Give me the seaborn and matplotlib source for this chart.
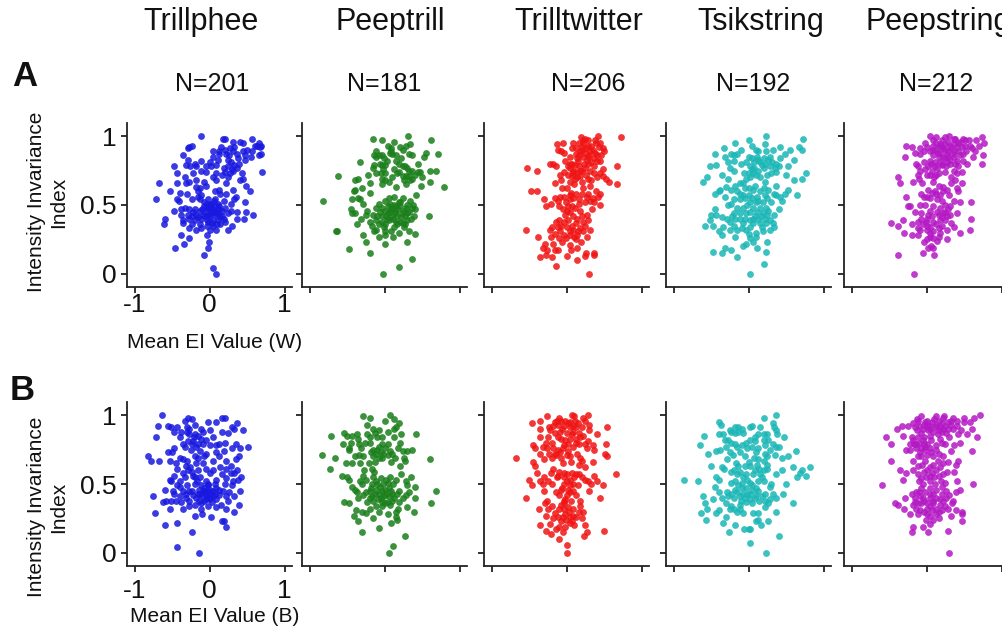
import matplotlib
matplotlib.use("Agg")
import matplotlib.pyplot as plt
import pandas as pd
import seaborn as sns

# Song types (columns) and neurons recorded per song type
SONGS = ["Trillphee", "Peeptrill", "Trilltwitter", "Tsikstring", "Peepstring"]
COUNTS = [201, 181, 206, 192, 212]
CONDITIONS = ["W", "B"]
X_TICKS = [-1, 0, 1]
Y_TICKS = [0, 0.5, 1]

# (mean EI value, intensity invariance index) per neuron, in hundredths
W_TRILLPHEE = [(-11,100),(18,98),(20,98),(31,96),(41,96),(44,95),(56,98),(66,95),(69,93),(63,93),(67,92),(-27,92),(-29,91),(-24,93),(4,89),(13,89),(21,90),(27,91),(31,89),(22,87),(13,87),(45,89),(56,89),(69,87),(66,86),(-36,86),(4,85),(36,87),(47,86),(-29,83),(-11,82),(0,81),(11,83),(25,83),(29,81),(47,83),(-48,78),(-31,79),(-26,78),(-18,78),(-5,78),(2,78),(8,79),(33,79),(39,80),(36,77),(31,75),(27,73),(21,74),(-12,75),(-5,74),(9,73),(70,74),(19,77),(24,70),(-44,73),(-22,73),(-28,67),(-32,66),(-44,66),(-68,66),(9,68),(22,66),(-8,67),(-18,68),(44,69),(41,68),(49,64),(-18,63),(-13,62),(-16,60),(-53,60),(-40,59),(12,61),(14,58),(31,61),(54,60),(35,56),(-12,57),(-44,54),(-41,53),(-72,54),(-24,54),(-13,54),(-2,54),(7,54),(19,53),(33,54),(47,52),(-4,51),(2,51),(11,51),(-8,49),(0,48),(7,49),(13,49),(-47,46),(-33,48),(-27,47),(-22,45),(-13,46),(-5,46),(4,46),(11,45),(20,48),(29,46),(36,45),(49,45),(-38,43),(-29,43),(-18,43),(-9,43),(-2,43),(2,44),(9,43),(17,42),(58,43),(24,44),(46,40),(-59,40),(-36,39),(-27,40),(-20,39),(-11,40),(-4,39),(4,39),(11,39),(36,40),(-61,36),(-36,37),(-24,36),(-13,36),(-4,35),(4,35),(14,36),(20,38),(30,35),(-27,33),(-18,32),(0,32),(9,32),(24,32),(-38,28),(-4,28),(-27,26),(-1,23),(-34,22),(-46,19),(-2,19),(-8,14),(4,4),(9,0),
    (5,47),(-3,48),(8,44),(-6,42),(12,47),(-10,47),(0,42),(3,37),(-15,41),(16,46),(-8,52),(6,53),(1,50),(-19,47),(14,41),(-2,38),(10,36),(-12,33),(19,40),(-24,42),(26,86),(33,92),(15,92),(38,84),(50,90),(60,93),(24,78),(30,76),(17,72),(5,70),(-20,80),(-33,70),(-15,56),(22,58),(-30,58),(43,73),(55,85),(-5,64),(7,60),(-38,47),(28,51)]
W_PEEPTRILL = [(-16,98),(-4,97),(12,96),(31,100),(34,94),(62,97),(4,93),(9,91),(21,92),(24,90),(7,88),(10,87),(-14,86),(-11,85),(-8,86),(-3,86),(-1,84),(32,87),(37,86),(52,85),(71,87),(-33,81),(-14,79),(-3,79),(1,79),(15,82),(19,80),(24,78),(30,77),(36,75),(44,74),(47,74),(61,75),(68,75),(-16,77),(-12,73),(-5,73),(1,73),(17,73),(28,71),(32,71),(-62,71),(-3,69),(1,68),(10,70),(26,68),(37,69),(-39,68),(-35,69),(-19,66),(-3,65),(28,65),(49,64),(60,67),(79,63),(-40,61),(-41,60),(-19,59),(-44,54),(-33,54),(-29,51),(-82,53),(12,56),(24,55),(1,53),(7,51),(19,52),(34,53),(-12,48),(-4,48),(4,49),(10,48),(15,49),(21,49),(28,48),(36,48),(41,47),(-23,46),(0,46),(7,45),(14,44),(23,44),(30,44),(-43,44),(-39,44),(-16,43),(-3,42),(2,42),(9,41),(17,42),(27,42),(39,42),(59,42),(-32,40),(-12,39),(-3,38),(6,39),(15,38),(21,38),(30,39),(-37,36),(-17,35),(-8,36),(1,36),(12,34),(26,34),(-64,31),(-65,31),(-12,32),(1,31),(9,31),(32,31),(-29,28),(-8,27),(1,28),(11,27),(40,29),(-25,23),(0,22),(30,23),(-47,18),(-19,15),(37,11),(19,5),(-2,0),
    (14,46),(18,47),(22,41),(5,44),(11,40),(26,46),(33,45),(3,40),(-6,45),(16,36),(24,37),(-1,34),(8,47),(30,50),(-10,42),(20,52),(35,40),(-20,38),(-25,43),(12,50),(27,36),(6,55),(-8,51),(38,50),(-14,31),(19,30),(8,89),(15,86),(22,84),(27,78),(3,82),(-6,80),(32,75),(12,76),(19,74),(40,72),(-12,89),(28,93),(45,80),(-2,76),(25,71),(-22,72),(6,67),(34,68),(50,70),(-30,62),(15,63),(-36,55),(42,57),(55,88),(-45,47)]
W_TRILLTWITTER = [(19,99),(25,98),(28,97),(42,100),(73,99),(9,95),(16,95),(22,95),(29,93),(39,95),(-13,94),(-5,95),(7,91),(20,92),(26,91),(43,92),(48,91),(50,89),(-11,90),(-8,89),(12,87),(18,89),(31,89),(38,88),(46,86),(4,85),(14,84),(22,85),(28,85),(36,84),(40,82),(-2,82),(-22,80),(-18,80),(-14,78),(-53,77),(-39,75),(7,80),(11,79),(17,78),(23,80),(33,81),(67,78),(4,77),(9,75),(13,74),(21,75),(31,75),(36,73),(44,73),(-9,72),(2,72),(7,71),(11,69),(18,71),(29,69),(33,68),(49,71),(53,69),(57,67),(67,65),(-8,68),(4,67),(20,67),(0,62),(-48,60),(-39,60),(-9,56),(-4,56),(4,57),(13,58),(21,58),(29,58),(39,60),(45,58),(42,56),(-30,54),(-21,51),(-12,53),(-1,52),(4,54),(16,54),(25,52),(31,53),(37,52),(44,50),(-28,49),(-10,49),(2,49),(7,49),(11,48),(1,46),(18,46),(-2,43),(9,42),(27,43),(-10,39),(-14,38),(2,39),(14,40),(22,38),(29,39),(-20,34),(-7,35),(0,34),(-54,32),(-22,32),(-9,31),(9,32),(15,31),(22,31),(31,32),(-4,28),(4,28),(14,28),(27,27),(-38,27),(-21,27),(-10,26),(-1,26),(13,25),(-29,22),(4,21),(14,19),(-31,19),(-26,17),(-16,17),(-12,17),(-27,14),(-36,12),(0,13),(24,13),(26,15),(36,15),(37,14),(14,10),(-14,6),(30,0),
    (20,90),(24,88),(32,93),(27,83),(15,82),(35,90),(30,86),(12,91),(22,97),(45,95),(40,86),(5,80),(18,75),(25,77),(8,73),(2,78),(-3,88),(36,78),(26,72),(14,70),(-4,74),(44,82),(48,76),(10,65),(22,62),(31,64),(6,59),(-6,62),(16,51),(9,55),(27,56),(-15,55),(35,55),(5,45),(-5,47),(20,42),(13,37),(-3,38),(7,35),(18,33),(-12,34),(24,35),(4,31),(-16,29),(10,27),(-6,23),(19,23),(-18,22),(6,17),(-20,12),(38,97),(17,86),(29,80),(41,70),(-16,66),(34,47)]
W_TSIKSTRING = [(23,100),(73,98),(-18,95),(5,93),(22,94),(42,92),(67,92),(71,90),(-33,91),(10,90),(13,89),(23,89),(33,90),(48,87),(-45,87),(-23,87),(-20,86),(-15,87),(-32,85),(0,85),(4,84),(11,85),(20,84),(26,83),(60,83),(-28,81),(-3,81),(7,81),(15,81),(22,80),(31,81),(37,80),(40,78),(52,78),(-51,78),(-43,79),(-25,77),(-20,75),(2,78),(7,77),(12,75),(20,77),(28,78),(35,77),(37,74),(-6,73),(0,73),(6,73),(24,72),(76,73),(-3,69),(2,70),(10,72),(-28,69),(-61,67),(-55,70),(71,69),(22,67),(-18,64),(-11,66),(-38,61),(-45,58),(-40,60),(-23,61),(-15,60),(-5,62),(1,62),(6,61),(15,60),(20,62),(26,61),(53,61),(34,58),(37,57),(42,56),(45,53),(64,57),(-32,56),(-12,58),(0,57),(11,56),(-20,54),(-12,54),(-5,55),(2,52),(10,52),(19,52),(25,55),(-23,51),(-15,48),(-7,48),(6,48),(15,48),(23,48),(26,46),(-20,44),(-3,44),(2,45),(11,45),(19,44),(34,43),(-50,43),(-43,43),(-36,41),(-29,40),(-18,40),(-12,40),(-5,40),(2,39),(13,40),(22,40),(28,39),(-52,39),(-25,38),(6,37),(15,37),(23,37),(32,37),(-58,35),(-48,35),(-34,34),(-20,35),(-9,33),(2,34),(34,34),(-40,31),(-36,28),(-25,32),(-15,32),(1,29),(10,30),(19,31),(2,26),(24,23),(-4,22),(-8,20),(11,19),(-32,19),(-47,16),(-35,15),(-23,17),(23,16),(-15,12),(20,7),(2,0),
    (12,83),(18,79),(28,85),(5,76),(-10,80),(15,70),(-7,66),(30,73),(-20,82),(42,84),(50,72),(-35,72),(8,64),(22,57),(-8,57),(13,53),(-28,50),(30,52),(5,55),(-2,50),(8,42),(-12,44),(16,42),(25,43),(-8,37),(6,40),(-22,42),(18,34),(28,32),(-3,32),(10,27),(-18,27),(6,23),(-45,47),(40,47),(36,64),(-30,63),(60,68),(48,58),(-10,90),(1,97),(55,90)]
W_PEEPSTRING = [(4,100),(13,99),(30,100),(21,97),(38,98),(51,97),(56,97),(66,97),(74,99),(77,95),(-28,93),(-19,92),(-9,91),(-2,95),(9,93),(16,93),(20,92),(25,94),(31,93),(36,94),(42,95),(47,92),(51,93),(60,91),(-4,89),(4,89),(13,90),(18,88),(25,90),(29,89),(36,89),(42,89),(49,87),(-29,85),(-9,87),(9,86),(16,85),(22,85),(29,85),(37,85),(62,85),(75,86),(4,82),(11,81),(18,81),(27,81),(41,82),(-14,80),(74,80),(-11,78),(2,78),(11,78),(20,79),(31,80),(42,78),(54,80),(-9,75),(-2,76),(7,75),(25,74),(36,75),(40,73),(47,74),(-12,72),(0,72),(4,72),(13,72),(-38,70),(-18,67),(-10,69),(-36,66),(9,67),(38,68),(33,66),(47,66),(22,63),(40,62),(42,60),(2,61),(-8,58),(7,59),(13,58),(18,57),(22,60),(30,57),(0,56),(14,54),(-4,56),(-27,56),(-22,49),(-25,49),(-9,50),(9,49),(18,48),(31,49),(45,52),(59,52),(29,47),(25,45),(-7,44),(2,43),(7,42),(16,43),(22,44),(27,42),(31,43),(0,40),(9,38),(18,39),(25,39),(-47,37),(-38,35),(-32,39),(-12,38),(-5,36),(1,35),(16,33),(27,32),(37,34),(59,40),(58,32),(-30,30),(-12,33),(0,32),(4,30),(9,31),(-20,28),(-11,28),(4,27),(9,26),(16,27),(-4,23),(2,19),(9,19),(-5,15),(10,14),(-38,14),(-17,0),
    (18,94),(22,91),(28,96),(33,91),(40,92),(45,96),(15,88),(27,87),(35,87),(44,86),(52,89),(8,90),(0,92),(12,95),(24,84),(31,83),(20,80),(14,77),(6,80),(38,80),(48,82),(26,78),(17,73),(32,70),(10,70),(-3,81),(58,93),(65,89),(-6,66),(16,64),(27,61),(5,55),(20,53),(11,60),(-2,50),(25,50),(36,53),(4,46),(14,45),(20,41),(12,36),(5,34),(21,35),(32,37),(-1,38),(-8,40),(18,30),(1,25),(-9,32),(14,24),(27,25),(-15,45),(40,44),(6,20),(-20,36),(45,30),(36,98),(49,98),(-15,88),(70,93),(9,97),(24,99)]

B_TRILLPHEE = [(-64,100),(-29,98),(-33,96),(-24,97),(17,98),(21,98),(-69,92),(-55,92),(-52,91),(-44,91),(-30,91),(-27,90),(-12,90),(-2,95),(9,95),(36,94),(30,91),(33,90),(44,89),(-38,88),(-30,88),(-19,86),(-9,88),(1,89),(16,88),(-71,84),(-21,84),(-16,85),(-5,82),(-22,81),(-29,81),(-36,79),(-24,79),(-16,79),(-9,79),(0,78),(9,78),(13,79),(21,80),(35,79),(51,77),(-48,76),(-50,73),(-25,75),(-13,74),(8,73),(19,74),(40,76),(-82,70),(-78,67),(-67,67),(-39,69),(-36,68),(-30,67),(-20,70),(-16,69),(-8,70),(39,70),(-53,67),(-45,65),(-44,61),(-31,63),(-18,65),(4,67),(22,67),(36,60),(22,61),(-29,60),(-23,59),(-5,61),(4,60),(16,57),(28,58),(33,58),(-47,56),(-33,55),(-22,56),(-13,55),(9,53),(22,54),(-53,53),(-51,52),(-40,52),(-17,52),(-5,52),(31,52),(38,53),(-44,49),(-30,49),(-20,50),(-11,49),(-2,49),(7,50),(20,50),(30,49),(-49,45),(-36,45),(-27,45),(-14,46),(-9,45),(-2,45),(4,45),(13,46),(40,45),(-75,41),(-47,43),(-40,41),(-31,43),(-22,42),(-13,43),(-5,43),(0,43),(7,43),(22,41),(33,41),(-62,37),(-58,38),(-51,38),(-45,38),(-38,37),(-27,38),(-14,38),(-8,38),(-1,39),(9,39),(24,38),(-27,34),(-20,35),(-12,32),(-2,34),(9,33),(22,32),(39,35),(33,30),(-53,32),(-35,32),(-73,29),(-20,27),(2,26),(16,23),(19,23),(22,19),(-44,22),(-59,20),(-23,15),(-44,4),(-14,0),
    (-6,45),(-3,41),(1,46),(-10,41),(5,41),(-15,43),(-8,47),(0,40),(-12,36),(3,37),(-18,40),(-5,39),(8,47),(-24,45),(12,42),(-2,50),(-20,55),(-26,62),(-15,60),(-9,65),(0,58),(14,62),(-33,77),(-18,77),(-27,86),(-12,83),(5,84),(25,87),(-40,84),(12,70),(-5,72),(30,76),(-55,73),(-60,46),(28,63),(-35,58),(18,45),(26,44),(-31,40),(15,35),(-40,48),(35,68),(-48,88),(-20,93),(42,55),(-10,28)]
B_PEEPTRILL = [(7,100),(-29,99),(-20,98),(0,96),(12,97),(19,94),(-23,93),(15,91),(12,90),(-72,85),(-54,87),(-50,85),(-44,85),(-37,86),(-24,86),(-13,87),(-7,89),(4,88),(22,86),(42,86),(-35,83),(-19,84),(-10,84),(12,84),(-56,79),(-45,80),(-34,79),(-20,80),(-3,79),(5,79),(-48,76),(-48,75),(-32,76),(-15,75),(-8,77),(1,76),(18,76),(24,74),(30,74),(36,75),(-34,71),(-29,70),(-11,72),(-5,73),(-2,72),(4,71),(10,72),(-84,71),(-66,69),(-15,70),(-8,69),(26,69),(61,68),(-51,65),(-43,65),(-33,65),(-21,65),(-13,66),(8,66),(27,67),(-73,61),(-17,61),(-14,59),(20,63),(-57,56),(-50,55),(-48,53),(-29,56),(-25,53),(-33,52),(-15,55),(-5,54),(7,55),(15,53),(29,52),(-43,48),(-39,46),(-30,50),(-17,50),(-10,50),(-2,50),(4,51),(11,50),(30,49),(-37,44),(-25,44),(-19,45),(-12,46),(-4,45),(1,46),(8,45),(19,45),(33,44),(69,45),(-29,42),(-17,41),(-8,43),(-1,41),(6,41),(17,43),(29,42),(41,40),(-54,37),(-48,36),(-23,37),(-15,38),(-3,37),(5,37),(10,38),(19,37),(62,36),(-12,34),(-3,34),(7,35),(18,32),(30,33),(39,30),(-38,31),(-30,30),(-25,29),(-19,32),(-41,27),(-16,25),(4,28),(15,26),(17,24),(9,22),(-35,23),(-30,15),(-8,18),(27,12),(11,5),(6,0),
    (-6,48),(-13,43),(2,43),(-9,39),(6,47),(-18,47),(13,40),(-5,40),(0,36),(-20,40),(10,43),(-12,52),(2,53),(-4,69),(-10,75),(-18,73),(7,74),(14,69),(-26,80),(-3,84),(-16,90),(20,80),(-40,70),(-28,60),(22,57),(35,55),(25,40),(-35,40),(15,30),(-7,30),(40,48)]
B_TRILLTWITTER = [(-26,99),(7,100),(29,100),(-46,94),(-35,96),(-13,96),(-8,96),(-2,96),(2,94),(11,96),(22,98),(25,96),(-23,91),(-18,92),(-11,93),(-4,92),(4,91),(9,92),(13,91),(30,89),(54,91),(-22,89),(-16,87),(-9,88),(0,87),(7,86),(16,87),(-35,84),(-25,84),(-12,84),(-2,82),(4,83),(12,83),(18,84),(-20,80),(2,79),(16,79),(25,79),(35,78),(52,79),(-45,78),(-42,76),(-32,77),(-26,76),(-18,76),(-11,75),(-5,76),(9,77),(27,76),(37,75),(-35,72),(-23,72),(-14,71),(-9,73),(0,71),(5,70),(51,72),(54,70),(-68,69),(-20,69),(-7,69),(18,69),(21,67),(-45,66),(-42,63),(16,64),(-18,61),(-10,59),(-21,58),(-4,58),(0,57),(7,58),(12,57),(16,57),(66,57),(-50,53),(-36,52),(-25,52),(-30,55),(-13,55),(-4,55),(4,53),(25,53),(37,56),(40,52),(29,52),(32,50),(-46,49),(-32,50),(-4,50),(4,49),(9,50),(48,49),(-8,46),(2,46),(-10,42),(0,42),(5,44),(-2,39),(-54,40),(-26,38),(-29,36),(-20,34),(-4,38),(18,38),(-37,32),(-25,32),(-10,32),(-4,32),(2,33),(9,32),(22,30),(-28,27),(-12,26),(-2,28),(4,26),(9,27),(13,26),(-8,23),(-1,24),(4,22),(-22,21),(-36,20),(-10,19),(-2,19),(25,20),(-28,16),(-14,17),(-5,15),(-21,14),(23,12),(27,15),(50,16),(-10,10),(1,6),(0,0),
    (-6,90),(5,95),(15,94),(-15,95),(-8,83),(8,88),(20,91),(-3,78),(12,80),(22,85),(-28,80),(2,74),(-16,72),(14,72),(28,81),(-30,68),(6,66),(-5,65),(25,62),(-12,56),(10,55),(20,55),(-20,50),(15,49),(0,52),(-6,47),(8,45),(-14,44),(12,42),(-3,36),(6,38),(3,30),(-8,35),(18,34),(-15,29),(7,23),(-5,26),(16,30),(-18,25),(10,20),(20,25),(-30,45),(30,45),(-40,58),(35,66),(-10,98),(10,99),(30,93),(-35,90),(40,86),(45,40)]
B_TSIKSTRING = [(36,100),(20,98),(-40,95),(-37,93),(-18,91),(-14,91),(-9,90),(2,91),(5,92),(32,94),(34,91),(-23,88),(-18,87),(-14,88),(12,86),(20,86),(25,86),(36,89),(38,86),(-59,85),(-40,86),(-34,86),(-32,82),(-28,82),(-23,80),(47,84),(2,82),(9,81),(20,82),(26,82),(-65,78),(-18,79),(-15,77),(-9,78),(-2,76),(5,77),(13,76),(22,78),(32,79),(36,77),(-54,72),(-44,74),(-38,75),(-25,73),(-21,71),(-12,73),(22,72),(25,70),(35,71),(44,69),(63,74),(-29,68),(-17,65),(-14,63),(7,69),(13,68),(20,67),(24,64),(-36,62),(-33,61),(-5,63),(2,63),(11,64),(14,61),(20,60),(25,61),(59,62),(82,62),(71,60),(68,58),(64,55),(76,56),(-43,55),(-40,53),(-24,59),(-15,57),(-11,59),(-3,57),(6,57),(15,57),(36,57),(-86,53),(-68,52),(-24,51),(-18,52),(-9,51),(-2,53),(2,51),(12,52),(20,52),(50,50),(28,48),(-18,46),(-9,47),(-3,47),(4,46),(13,45),(-40,44),(-29,44),(-23,43),(-15,44),(-7,43),(2,43),(22,43),(33,43),(46,43),(-61,41),(-48,39),(-27,41),(-20,40),(-12,41),(-5,40),(2,39),(8,40),(14,38),(22,38),(28,39),(-58,36),(-30,36),(-24,34),(-12,35),(-3,37),(4,36),(26,36),(59,36),(-56,32),(-25,32),(-20,32),(-12,32),(-43,29),(-63,29),(-30,26),(-15,30),(6,29),(13,29),(36,30),(-57,24),(-34,22),(10,23),(13,24),(26,23),(-18,20),(17,20),(-6,17),(0,17),(2,17),(-26,15),(41,12),(2,7),(23,0),
    (-8,87),(8,84),(-25,89),(15,91),(-3,80),(28,75),(-30,77),(10,73),(-5,70),(0,66),(-20,60),(8,60),(-8,55),(18,55),(5,49),(-14,49),(10,47),(-2,43),(10,42),(-10,38),(18,41),(-35,40),(-8,29),(22,33),(30,50),(-45,48),(45,60),(-50,63),(40,77),(52,70),(-40,31),(36,40)]
B_PEEPSTRING = [(-7,99),(13,99),(23,99),(71,100),(63,98),(-33,92),(-13,97),(-11,96),(0,96),(7,95),(17,96),(22,98),(35,98),(40,96),(50,95),(-18,94),(-16,91),(-10,92),(-4,93),(4,92),(13,93),(18,91),(25,92),(33,93),(40,92),(-13,89),(-5,90),(2,89),(9,88),(16,89),(21,88),(29,90),(46,89),(54,86),(-31,85),(-54,84),(67,84),(-18,82),(-12,84),(-4,84),(4,85),(-47,79),(-22,79),(-17,79),(-10,80),(-4,79),(1,79),(21,80),(25,79),(-22,75),(-14,76),(-8,76),(-2,75),(4,76),(13,75),(-27,75),(32,74),(60,74),(-7,70),(1,71),(9,70),(16,72),(22,70),(-47,67),(-18,67),(-2,67),(29,66),(42,67),(39,64),(-11,63),(9,64),(18,62),(-18,60),(-12,57),(-4,59),(7,58),(13,60),(22,57),(27,59),(36,59),(-8,54),(-1,55),(4,56),(16,56),(-32,53),(-5,50),(4,52),(11,50),(19,52),(25,51),(-60,49),(4,47),(62,50),(-14,44),(-10,44),(-2,44),(4,43),(9,43),(21,43),(30,42),(44,46),(39,44),(-29,40),(-16,40),(-5,40),(4,40),(13,40),(26,40),(35,38),(-42,36),(-38,35),(-30,32),(-18,35),(-12,36),(-4,38),(1,36),(9,36),(18,35),(25,34),(-14,32),(-9,31),(0,32),(7,31),(16,30),(29,32),(39,31),(47,30),(-12,28),(0,28),(13,28),(32,27),(47,28),(-1,24),(9,24),(47,23),(-18,19),(-5,19),(-19,15),(2,15),(29,16),(30,0),
    (5,90),(12,91),(20,94),(28,95),(-2,95),(10,97),(35,90),(15,86),(26,87),(-8,87),(0,92),(22,90),(32,96),(-5,82),(6,82),(-14,79),(18,83),(-2,77),(-9,73),(6,73),(12,78),(-20,84),(42,86),(50,98),(58,95),(-25,92),(30,84),(-12,70),(15,67),(5,62),(-6,64),(22,65),(0,60),(10,55),(-10,52),(20,48),(12,46),(-7,47),(8,38),(-9,41),(18,39),(4,34),(-8,36),(22,38),(12,32),(-3,30),(20,31),(5,27),(-15,37),(26,45),(16,25),(-20,43),(34,36),(4,21),(-22,28),(40,52),(-35,60),(45,80),(-40,90),(60,90),(36,78),(-28,58)]

POINTS = {
    "W": [W_TRILLPHEE, W_PEEPTRILL, W_TRILLTWITTER, W_TSIKSTRING, W_PEEPSTRING],
    "B": [B_TRILLPHEE, B_PEEPTRILL, B_TRILLTWITTER, B_TSIKSTRING, B_PEEPSTRING],
}

rows = []
for cond in CONDITIONS:
    for song, pts in zip(SONGS, POINTS[cond]):
        for ei, iii in pts:
            rows.append((cond, song, ei / 100, iii / 100))
df = pd.DataFrame(rows, columns=["condition", "song", "ei", "iii"])

# ---- styling ----
sns.set_theme(style="ticks")
plt.rcParams["font.family"] = ["Liberation Sans", "DejaVu Sans"]
plt.rcParams["axes.unicode_minus"] = False

PALETTE = ["#1818e0", "#1a7f1a", "#f01414", "#1ab6b6", "#b418c4"]
INK = "#222222"

W_PX, H_PX = 1002, 632
COL_LEFT = [127, 302, 484, 666, 844]
ROW_TOP = [123, 402]
AX_W, AX_H = 165, 164

fig = plt.figure(figsize=(W_PX / 100, H_PX / 100), dpi=100)
fig.patch.set_facecolor("white")

for r, cond in enumerate(CONDITIONS):
    for c, song in enumerate(SONGS):
        left, top = COL_LEFT[c], ROW_TOP[r]
        ax = fig.add_axes([left / W_PX, 1 - (top + AX_H) / H_PX, AX_W / W_PX, AX_H / H_PX])
        sub = df[(df["condition"] == cond) & (df["song"] == song)]
        sns.scatterplot(data=sub, x="ei", y="iii", color=PALETTE[c], s=24,
                        alpha=0.85, linewidth=0, ax=ax, legend=False)
        ax.set_xlim(-1.1, 1.1)
        ax.set_ylim(-0.095, 1.095)
        ax.set_xticks(X_TICKS)
        ax.set_yticks(Y_TICKS)
        ax.set_xlabel("")
        ax.set_ylabel("")
        sns.despine(ax=ax)
        for side in ("left", "bottom"):
            ax.spines[side].set_color(INK)
            ax.spines[side].set_linewidth(1.3)
        ax.tick_params(direction="out", length=4.5, width=1.3, color=INK,
                       labelsize=19, labelcolor="#111111")
        ax.tick_params(axis="y", pad=3)
        ax.tick_params(axis="x", pad=0 if r == 0 else 5)
        if c == 0:
            ax.set_xticklabels([f"{t:g}" for t in X_TICKS])
            ax.set_yticklabels([f"{t:g}" for t in Y_TICKS])
        else:
            ax.tick_params(labelleft=False, labelbottom=False)

def fx(px):
    return px / W_PX

def fy(py):
    return 1 - py / H_PX

TITLE_X = [201, 390, 579, 761, 938]
N_X = [212, 384, 588, 753, 936]
for song, n, tx, nx in zip(SONGS, COUNTS, TITLE_X, N_X):
    fig.text(fx(tx), fy(22), song, ha="center", va="center", fontsize=22, color="#111111")
    fig.text(fx(nx), fy(84), f"N={n}", ha="center", va="center", fontsize=18, color="#111111")

fig.text(fx(25), fy(77), "A", ha="center", va="center", fontsize=25, fontweight="bold", color="#111111")
fig.text(fx(22), fy(391), "B", ha="center", va="center", fontsize=25, fontweight="bold", color="#111111")

for cond, ylab_y, xlab_y in (("W", 202, 342), ("B", 507, 617)):
    fig.text(fx(48), fy(ylab_y), "Intensity Invariance\nIndex", rotation=90,
             ha="center", va="center", fontsize=15, color="#111111")
    fig.text(fx(215), fy(xlab_y), f"Mean EI Value ({cond})", ha="center", va="center",
             fontsize=15, color="#111111")

fig.savefig("out.png", dpi=100, facecolor="white")
